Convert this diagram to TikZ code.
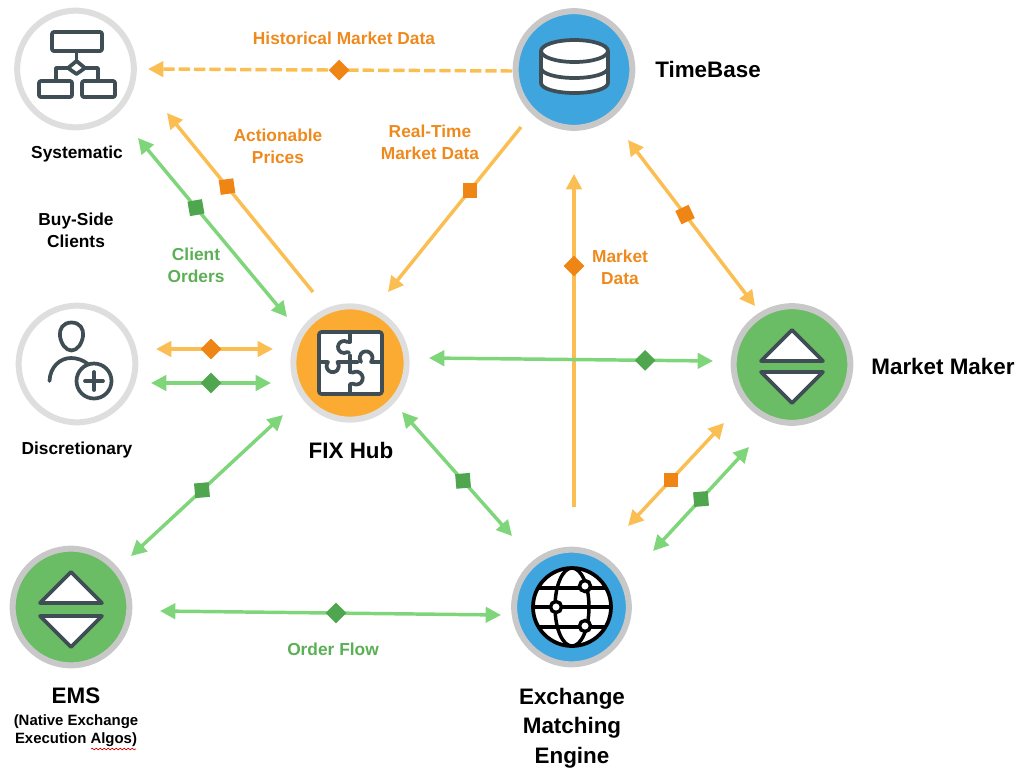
\documentclass[tikz,border=0pt]{standalone}
\usepackage{fontspec}
\setmainfont{Liberation Sans}
\usetikzlibrary{arrows.meta,calc,decorations.pathmorphing}
\definecolor{ringl}{HTML}{DEDEDE}
\definecolor{ringd}{HTML}{C8C8C8}
\definecolor{cblue}{HTML}{3FA5DF}
\definecolor{cgreen}{HTML}{6ABD64}
\definecolor{corange}{HTML}{FBAB32}
\definecolor{ayellow}{HTML}{FBBE52}
\definecolor{agreen}{HTML}{7FD67A}
\definecolor{dorange}{HTML}{EE8515}
\definecolor{dgreen}{HTML}{4FA64F}
\definecolor{torange}{HTML}{EE8A1D}
\definecolor{tgreen}{HTML}{5BAF55}
\definecolor{icon}{HTML}{3F4D55}
\tikzset{
  hubnode/.style={circle,inner sep=0pt,minimum size=87.5pt,line width=4.5pt},
  ylw/.style={draw=ayellow,line width=2.6pt},
  grn/.style={draw=agreen,line width=2.6pt},
  tip/.style={-{Triangle[length=11.5pt,width=11.5pt]}},
  twotip/.style={{Triangle[length=11.5pt,width=11.5pt]}-{Triangle[length=11.5pt,width=11.5pt]}},
  marko/.style={rectangle,fill=dorange,inner sep=0pt,minimum size=11pt},
  markg/.style={rectangle,fill=dgreen,inner sep=0pt,minimum size=11pt},
  lab/.style={font=\fontsize{13}{16.5}\selectfont\bfseries,align=center,inner sep=0pt},
  big/.style={font=\fontsize{16.8}{22.3}\selectfont\bfseries,align=center,inner sep=0pt},
  small/.style={font=\fontsize{11.2}{13.5}\selectfont\bfseries,align=center,inner sep=0pt},
  ico/.style={draw=icon,line width=2.8pt,line join=round,line cap=round},
  tri/.style={ico,fill=white},
}
\begin{document}
\begin{tikzpicture}[x=0.75pt,y=-0.75pt]
\useasboundingbox (0,0) rectangle (1018,769);
% circles
\node[hubnode,draw=ringl,fill=white] (sys) at (75.5,69) {};
\node[hubnode,draw=ringd,fill=cblue] (tb) at (574,69.5) {};
\node[hubnode,draw=ringl,fill=corange,minimum size=85pt] (hub) at (350,363) {};
\node[hubnode,draw=ringd,fill=cblue,minimum size=86pt] (ex) at (571.5,607) {};
\node[hubnode,draw=ringl,fill=white] (dis) at (77,364) {};
\node[hubnode,draw=ringd,fill=cgreen] (ems) at (71,607) {};
\node[hubnode,draw=ringd,fill=cgreen] (mm) at (792,364.5) {};
% connectors
\draw[ylw,tip,dash pattern=on 8.5pt off 3pt] ($(tb)+(-62,1.5)$) -- node[marko,pos=.475,rotate=45] (d1) {} ($(sys)+(72.5,0)$);
\draw[ylw,tip] ($(hub)+(-37,-71)$) -- node[marko,pos=.589,rotate=8] (d2) {} ($(sys)+(91.5,44)$);
\draw[grn,twotip] ($(sys)+(62.5,69)$) -- node[markg,pos=.389,rotate=10] (d3) {} ($(hub)+(-63,-46)$);
\draw[ylw,tip] ($(tb)+(-53,57.5)$) -- node[marko,pos=.383] (d4) {} ($(hub)+(38,-71)$);
\draw[ylw,twotip] ($(tb)+(54,70.5)$) -- node[marko,pos=.449,rotate=25] (d5) {} ($(mm)+(-37,-58.5)$);
\draw[ylw,tip] ($(ex)+(2.5,-100)$) -- node[marko,pos=.724,rotate=45] (d6) {} ($(tb)+(0,104.5)$);
\draw[ylw,twotip] ($(dis)+(79,-15)$) -- node[marko,pos=.47,rotate=45] (d7) {} ($(hub)+(-77,-14)$);
\draw[grn,twotip] ($(dis)+(74,19)$) -- node[markg,pos=.5,rotate=45] (d8) {} ($(hub)+(-79,20)$);
\draw[grn,twotip] ($(hub)+(79,-5)$) -- node[markg,pos=.761,rotate=45] (d9) {} ($(mm)+(-79,-3.5)$);
\draw[grn,twotip] ($(hub)+(52,49)$) -- node[markg,pos=.555,rotate=5] (d10) {} ($(ex)+(-59.5,-71)$);
\draw[ylw,twotip] ($(mm)+(-68,58.5)$) -- node[marko,pos=.552] (d11) {} ($(ex)+(56.5,-81)$);
\draw[grn,twotip] ($(mm)+(-43,82.5)$) -- node[markg,pos=.5,rotate=5] (d12) {} ($(ex)+(81.5,-56)$);
\draw[grn,twotip] ($(hub)+(-67,52)$) -- node[markg,pos=.533,rotate=5] (d13) {} ($(ems)+(60,-51)$);
\draw[grn,twotip] ($(ems)+(89,4)$) -- node[markg,pos=.516,rotate=45] (d14) {} ($(ex)+(-70.5,8)$);
% systematic icon
\draw[ico,rounded corners=1.5pt] (52,32) rectangle (102,51);
\draw[ico] (76.5,51) -- (76.5,61);
\draw[ico] (76.5,61) -- (85,68) -- (76.5,74) -- (68,68) -- cycle;
\draw[ico] (68,68) -- (56,68) -- (56,81);
\draw[ico] (85,68) -- (98,68) -- (98,81);
\draw[ico,rounded corners=1.5pt] (39,81) rectangle (72,97);
\draw[ico,rounded corners=1.5pt] (82,81) rectangle (115,97);
% discretionary icon
\draw[ico] (71.5,322.5) .. controls (80,322.5) and (84,329) .. (83,336) .. controls (82,344) and (77,350.5) .. (71.5,350.5) .. controls (66,350.5) and (61,344) .. (60,336) .. controls (59,329) and (63,322.5) .. (71.5,322.5) -- cycle;
\draw[ico] (49.5,381) .. controls (50,367) and (60,358) .. (71,358) .. controls (77,358) and (83,360) .. (88,364);
\draw[ico] (94,381) circle[radius=17.5];
\draw[ico] (85,381) -- (103,381);
\draw[ico] (94,372) -- (94,390);
% timebase icon
\draw[ico,fill=white] (541,51) -- (541,83) arc[start angle=180,end angle=0,x radius=33.5,y radius=10] -- (608,51) -- cycle;
\draw[ico] (541,68) arc[start angle=180,end angle=0,x radius=33.5,y radius=10];
\draw[ico,fill=white] (574.5,51) ellipse[x radius=33.5,y radius=11];
% hub icon
\draw[ico,fill=white,rounded corners=2pt] (319,332) rectangle (382,394);
\draw[ico] (350,332) -- (350,342);
\draw[ico] (350,342) -- (347,341.8) arc[start angle=-60,end angle=-300,radius=6] -- (349,352.5);
\draw[ico] (350,355.5) -- (350,372);
\draw[ico] (319,362) -- (328,362) arc[start angle=-140,end angle=-400,radius=6.2] -- (358,362);
\draw[ico] (382,362) -- (371,362) arc[start angle=40,end angle=-220,radius=6.5];
\draw[ico] (350,372) -- (353,372.5) arc[start angle=-120,end angle=120,radius=6.5] -- (350,384) -- (350,394);
% exchange icon
\draw[draw=black,line width=2.8pt,fill=white] (572,607) circle[radius=39];
\begin{scope}
\clip (572,607) circle[radius=39];
\draw[black,line width=2.6pt] (572,607) ellipse[x radius=17,y radius=39];
\draw[black,line width=2.6pt] (530,588) -- (614,588);
\draw[black,line width=2.6pt] (530,607) -- (614,607);
\draw[black,line width=2.6pt] (530,627) -- (614,627);
\end{scope}
\draw[black,line width=2.6pt,fill=white] (585,586) circle[radius=5.5];
\draw[black,line width=2.6pt,fill=white] (556,607) circle[radius=5.5];
\draw[black,line width=2.6pt,fill=white] (585,626) circle[radius=5.5];
% triangles
\draw[tri] (71,572) -- (102,603) -- (40,603) -- cycle;
\draw[tri] (71,647) -- (102,616) -- (40,616) -- cycle;
\draw[tri] (792,330) -- (823,361) -- (761,361) -- cycle;
\draw[tri] (792,403) -- (823,372) -- (761,372) -- cycle;
% labels
\node[lab,text=torange] (t1) at (344,38) {Historical Market Data};
\node[lab,text=torange] (t2) at (278,146) {Actionable\\Prices};
\node[lab,text=torange] (t3) at (430,142) {Real-Time\\Market Data};
\node[lab,text=tgreen] (t4) at (196,265) {Client\\Orders};
\node[lab,text=torange] (t5) at (620,267) {Market\\Data};
\node[lab,text=tgreen] (t6) at (333,649) {Order Flow};
\node[lab] (t7) at (77,154) {Systematic};
\node[lab] (t8) at (76,230) {Buy-Side\\Clients};
\node[lab] (t9) at (77,450) {Discretionary};
\node[big] (t10) at (708,69) {TimeBase};
\node[big] (t11) at (351,450) {FIX Hub};
\node[big] (t12) at (943,366) {Market Maker};
\node[big] (t13) at (572,728) {Exchange\\Matching\\Engine};
\node[big] (t14) at (76,696) {EMS};
\node[small] (t15) at (76,731) {(Native Exchange\\Execution Algos)};
\draw[red!80!black,line width=0.5pt,decorate,decoration={snake,amplitude=0.6pt,segment length=3pt}] (91,749) -- (136,749);
\end{tikzpicture}
\end{document}
